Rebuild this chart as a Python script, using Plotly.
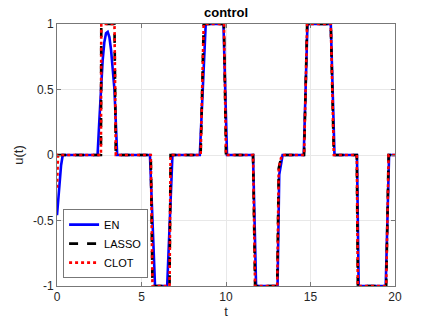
import plotly.graph_objects as go

# EN (elastic net) control, breakpoints
en_t = [0, 0.08, 0.16, 0.24, 0.34, 2.4, 2.5, 2.6, 2.7, 2.8, 2.9, 3.0, 3.1, 3.2, 3.3, 3.4, 3.48, 3.56,
        5.5, 5.8, 6.52, 6.83, 8.45, 8.8, 9.85, 10.06, 11.6, 11.78, 13.05, 13.15, 13.35,
        14.6, 14.82, 16.2, 16.42, 17.75, 17.85, 19.45, 19.65, 20]
en_u = [-0.46, -0.32, -0.19, -0.08, 0, 0, 0.25, 0.5, 0.72, 0.86, 0.93, 0.94, 0.9, 0.8, 0.66, 0.5, 0.25, 0,
        0, -1, -1, 0, 0, 1, 1, 0, 0, -1, -1, -0.15, 0,
        0, 1, 1, 0, 0, -1, -1, 0, 0]

# LASSO control
lasso_t = [0, 2.6, 2.62, 3.4, 3.48, 5.55, 5.65, 6.66, 6.72, 8.5, 8.68, 9.88, 10.0,
           11.6, 11.72, 13.03, 13.12, 13.3, 14.62, 14.8, 16.2, 16.38, 17.74, 17.8, 19.48, 19.62, 20]
lasso_u = [0, 0, 1, 1, 0, 0, -1, -1, 0, 0, 1, 1, 0,
           0, -1, -1, -0.1, 0, 0, 1, 1, 0, 0, -1, -1, 0, 0]

# CLOT control
clot_t = [0, 0.06] + lasso_t[1:]
clot_u = [-0.25, 0] + lasso_u[1:]

fig = go.Figure()
fig.add_trace(go.Scatter(x=en_t, y=en_u, mode="lines", name="EN",
                         line=dict(color="#0000ff", width=2.6)))
fig.add_trace(go.Scatter(x=lasso_t, y=lasso_u, mode="lines", name="LASSO",
                         line=dict(color="black", width=2.6, dash="dash")))
fig.add_trace(go.Scatter(x=clot_t, y=clot_u, mode="lines", name="CLOT",
                         line=dict(color="#ff0000", width=2.6, dash="dot")))

axis_style = dict(
    showline=True, mirror="ticks", linecolor="#777777", linewidth=1,
    ticks="inside", ticklen=4, tickcolor="#777777",
    showgrid=True, gridcolor="#e8e8e8", gridwidth=1,
    zeroline=False, tickfont=dict(size=12, color="#262626"),
    automargin=False,
)

fig.update_xaxes(range=[0, 20], tickvals=[0, 5, 10, 15, 20],
                 title=dict(text="t", font=dict(size=13, color="#262626"), standoff=2),
                 **axis_style)
fig.update_yaxes(range=[-1, 1], tickvals=[-1, -0.5, 0, 0.5, 1],
                 ticktext=["-1", "-0.5", "0", "0.5", "1"],
                 title=dict(text="u(t)", font=dict(size=13, color="#262626"), standoff=6),
                 **axis_style)

fig.update_layout(
    width=436, height=327,
    margin=dict(l=57, r=41, t=24, b=41, autoexpand=False),
    paper_bgcolor="white", plot_bgcolor="white",
    font=dict(family="Liberation Sans, Arial, sans-serif", color="#262626"),
    title=dict(text="<b>control</b>", x=0.5, xref="paper", y=0.962, yanchor="middle",
               font=dict(size=13, color="black")),
    legend=dict(x=0.018, y=0.03, xanchor="left", yanchor="bottom",
                bgcolor="white", bordercolor="#777777", borderwidth=1,
                font=dict(size=11, color="black"), tracegroupgap=0,
                itemwidth=30),
    showlegend=True,
)

# drop the browser's default body margin so the figure sits at the page corner
fig.write_html("out.html", config={"displayModeBar": False},
               post_script="document.body.style.margin='0';")
